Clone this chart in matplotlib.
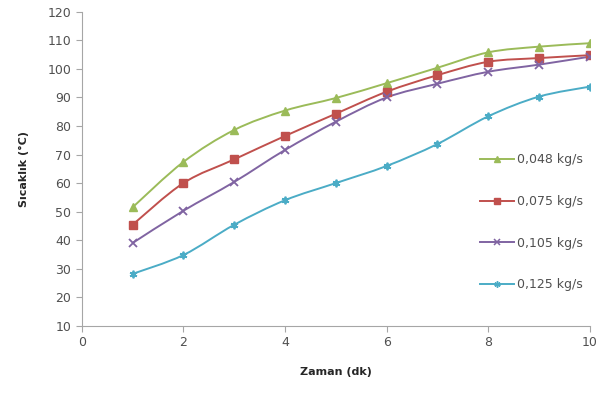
import numpy as np
import matplotlib
matplotlib.use("Agg")
import matplotlib.pyplot as plt
from matplotlib.path import Path
from matplotlib.patches import PathPatch
from matplotlib.lines import Line2D

# --- data ---
zaman = [1, 2, 3, 4, 5, 6, 7, 8, 9, 10]
s_048 = [51.5, 67.4, 78.6, 85.4, 89.8, 95.0, 100.4, 105.8, 107.8, 109.0]
s_075 = [45.4, 60.0, 68.3, 76.5, 84.3, 92.0, 97.8, 102.5, 103.8, 104.8]
s_105 = [39.0, 50.3, 60.4, 71.6, 81.5, 90.0, 94.8, 99.0, 101.5, 104.3]
s_125 = [28.2, 34.8, 45.4, 54.0, 60.0, 66.0, 73.7, 83.4, 90.3, 93.8]
labels = ["0,048 kg/s", "0,075 kg/s", "0,105 kg/s", "0,125 kg/s"]
series = [s_048, s_075, s_105, s_125]

colors = ["#9BBB59", "#C0504D", "#8064A2", "#4BACC6"]
markers = ["^", "s", "x", (6, 2, 0)]


def smooth_path(x, y, t=1 / 6):
    # Excel-like smoothed line: cubic bezier segments through the data points
    x = np.asarray(x, float)
    y = np.asarray(y, float)
    n = len(x)
    verts = [(x[0], y[0])]
    codes = [Path.MOVETO]
    for i in range(n - 1):
        x0, y0 = (x[i - 1], y[i - 1]) if i > 0 else (x[i], y[i])
        x3, y3 = (x[i + 2], y[i + 2]) if i + 2 < n else (x[i + 1], y[i + 1])
        c1 = (x[i] + (x[i + 1] - x0) * t, y[i] + (y[i + 1] - y0) * t)
        c2 = (x[i + 1] - (x3 - x[i]) * t, y[i + 1] - (y3 - y[i]) * t)
        verts += [c1, c2, (x[i + 1], y[i + 1])]
        codes += [Path.CURVE4] * 3
    return Path(verts, codes)


fig = plt.figure(figsize=(6.1, 3.94), dpi=100)
ax = fig.add_axes([0.134, 0.173, 0.833, 0.797])

handles = []
for vals, lab, col, mk in zip(series, labels, colors, markers):
    thin = mk == "x" or isinstance(mk, tuple)
    ax.add_patch(PathPatch(smooth_path(zaman, vals), fc="none", ec=col, lw=1.4))
    ax.plot(zaman, vals, ls="none", marker=mk, color=col, ms=5.5,
            mew=1.3 if thin else 1)
    handles.append(Line2D([], [], color=col, lw=1.4, marker=mk, ms=4.5,
                          mew=1.1 if thin else 1))

ax.set_xlim(0, 10)
ax.set_ylim(10, 120)
ax.set_xticks(range(0, 11, 2))
ax.set_yticks(range(10, 121, 10))

for side in ("top", "right"):
    ax.spines[side].set_visible(False)
for side in ("left", "bottom"):
    ax.spines[side].set_color("#A6A6A6")
ax.tick_params(colors="#A6A6A6", labelcolor="#505050", labelsize=9, length=4)

ax.set_xlabel("Zaman (dk)", fontsize=8, fontweight="bold", color="#262626", labelpad=13)
ax.set_ylabel("Sıcaklık (°C)", fontsize=8, fontweight="bold", color="#262626", labelpad=13)

fig.legend(handles, labels, loc="upper left", bbox_to_anchor=(0.777, 0.627),
           frameon=False, fontsize=9, labelspacing=2.3, handlelength=2.7,
           handletextpad=0.25, borderpad=0, labelcolor="#505050")

fig.savefig("out.png", dpi=100)
